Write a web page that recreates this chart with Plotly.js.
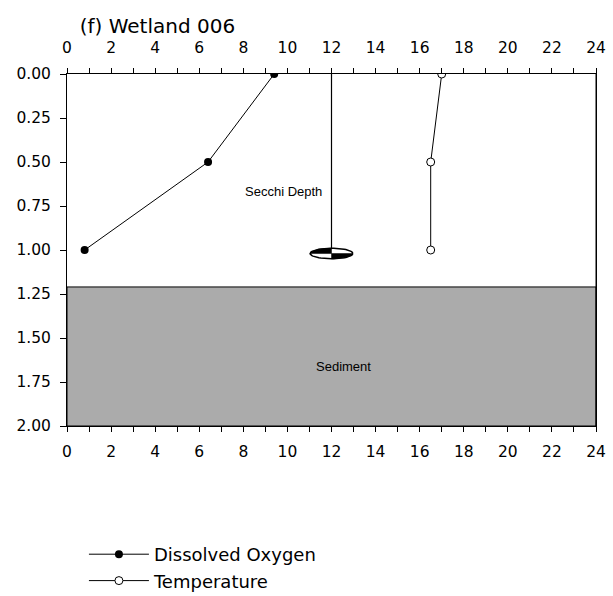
<!DOCTYPE html>
<html>
<head>
<meta charset="utf-8">
<script src="https://cdn.plot.ly/plotly-3.0.1.min.js"></script>
<style>html,body{margin:0;padding:0;background:#fff;}#chart{width:613px;height:596px;}</style>
</head>
<body>
<div id="chart"></div>
<script>
// Data
const doValues = [0.8, 6.4, 9.4];
const doDepths = [1.0, 0.5, 0.0];
const tempValues = [16.5, 16.5, 17.0];
const tempDepths = [1.0, 0.5, 0.0];
const secchiX = 12;
const secchiDepth = 1.02;
const sedimentTop = 1.21;
const sedimentBottom = 2.0;
const xTicks = [0, 2, 4, 6, 8, 10, 12, 14, 16, 18, 20, 22, 24];
const yTicks = [0, 0.25, 0.5, 0.75, 1.0, 1.25, 1.5, 1.75, 2.0];

const FONT = "Liberation Sans, Arial, sans-serif";
const WIDE = "DejaVu Sans, Verdana, sans-serif";
const rx = 0.97, ry = 0.03;

function quarter(a0, a1) {
  const xs = [secchiX], ys = [secchiDepth];
  for (let i = 0; i <= 20; i++) {
    const a = a0 + (a1 - a0) * i / 20;
    xs.push(secchiX + rx * Math.cos(a));
    ys.push(secchiDepth - ry * Math.sin(a));
  }
  xs.push(secchiX); ys.push(secchiDepth);
  return {xs, ys};
}
function ellipse() {
  const xs = [], ys = [];
  for (let i = 0; i <= 60; i++) {
    const a = 2 * Math.PI * i / 60;
    xs.push(secchiX + rx * Math.cos(a));
    ys.push(secchiDepth - ry * Math.sin(a));
  }
  return {xs, ys};
}
const el = ellipse();
const q1 = quarter(Math.PI / 2, Math.PI);        // top-left
const q2 = quarter(3 * Math.PI / 2, 2 * Math.PI); // bottom-right

const traces = [
  {x: [secchiX, secchiX], y: [0, secchiDepth], mode: 'lines', line: {color: '#000', width: 1.2}, showlegend: false, hoverinfo: 'skip'},
  {x: el.xs, y: el.ys, mode: 'lines', fill: 'toself', fillcolor: '#fff', line: {color: '#000', width: 1.5}, showlegend: false, hoverinfo: 'skip'},
  {x: q1.xs, y: q1.ys, mode: 'lines', fill: 'toself', fillcolor: '#000', line: {color: '#000', width: 0.5}, showlegend: false, hoverinfo: 'skip'},
  {x: q2.xs, y: q2.ys, mode: 'lines', fill: 'toself', fillcolor: '#000', line: {color: '#000', width: 0.5}, showlegend: false, hoverinfo: 'skip'},
  {x: doValues, y: doDepths, name: 'Dissolved Oxygen', mode: 'lines+markers',
   line: {color: '#000', width: 1}, marker: {symbol: 'circle', size: 8, color: '#000'}},
  {x: tempValues, y: tempDepths, name: 'Temperature', mode: 'lines+markers',
   line: {color: '#000', width: 1}, marker: {symbol: 'circle', size: 8, color: '#fff', line: {color: '#000', width: 1}}},
  {x: [0, 24], y: [0, 0], xaxis: 'x2', mode: 'lines', line: {width: 0}, showlegend: false, hoverinfo: 'skip'}
];

const axisCommon = {
  range: [0, 24], tickvals: xTicks, ticktext: xTicks.map(String),
  ticks: 'outside', ticklen: 5, tickwidth: 1, tickcolor: '#000',
  showline: true, linecolor: '#000', linewidth: 1, showgrid: false, zeroline: false,
  tickfont: {family: WIDE, size: 15.5, color: '#000'},
  minor: {dtick: 1, ticks: 'outside', ticklen: 5, tickcolor: '#000', showgrid: false}
};

const layout = {
  width: 613, height: 596,
  margin: {l: 67, r: 17, t: 74, b: 170, autoexpand: false},
  paper_bgcolor: '#fff', plot_bgcolor: '#fff',
  font: {family: FONT, color: '#000'},
  title: {text: '(f) Wetland 006', x: 0.13, xanchor: 'left', y: 0.957, yanchor: 'middle',
          font: {family: WIDE, size: 20, color: '#000'}},
  xaxis: Object.assign({}, axisCommon, {side: 'bottom', ticklabelstandoff: 6}),
  xaxis2: Object.assign({}, axisCommon, {side: 'top', overlaying: 'x', anchor: 'y', ticklabelstandoff: 9}),
  yaxis: {
    range: [2, 0], tickvals: yTicks, ticktext: yTicks.map(v => v.toFixed(2)),
    ticks: 'outside', ticklen: 6, tickcolor: '#000', ticklabelstandoff: 6,
    showline: true, linecolor: '#000', linewidth: 1, mirror: true, showgrid: false, zeroline: false,
    tickfont: {family: WIDE, size: 15.5, color: '#000'}
  },
  shapes: [
    {type: 'rect', xref: 'x', yref: 'y', x0: 0, x1: 24, y0: sedimentTop, y1: sedimentBottom,
     fillcolor: '#ababab', line: {color: '#000', width: 1}, layer: 'below'},
    {type: 'line', xref: 'paper', yref: 'paper', x0: 1, x1: 1, y0: 0, y1: 1, line: {color: '#000', width: 1}}
  ],
  annotations: [
    {text: 'Secchi Depth', xref: 'x', yref: 'y', x: 9.8, y: 0.67, showarrow: false,
     font: {family: FONT, size: 13, color: '#000'}},
    {text: 'Sediment', xref: 'x', yref: 'y', x: 12.55, y: 1.66, showarrow: false,
     font: {family: FONT, size: 13, color: '#000'}}
  ],
  legend: {x: 0.032, y: -0.3125, xanchor: 'left', yanchor: 'top', bgcolor: 'rgba(0,0,0,0)',
           font: {family: WIDE, size: 18, color: '#000'}, tracegroupgap: 0, itemwidth: 60},
  showlegend: true
};

Plotly.newPlot('chart', traces, layout, {displayModeBar: false, staticPlot: true});
</script>
</body>
</html>
